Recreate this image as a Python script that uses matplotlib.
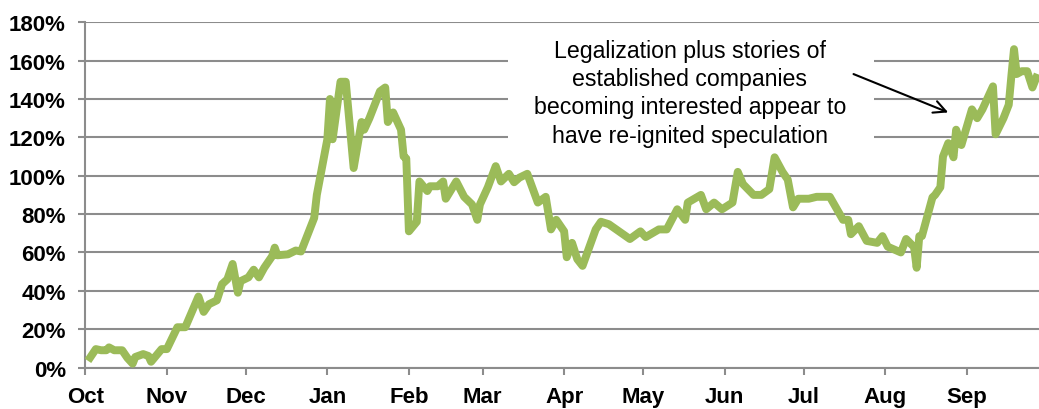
import pandas as pd
import matplotlib
matplotlib.use("Agg")
import matplotlib.pyplot as plt
import matplotlib.dates as mdates
from matplotlib.patches import Rectangle
from matplotlib.ticker import PercentFormatter, MultipleLocator

plt.rcParams['font.family'] = ['Liberation Sans', 'DejaVu Sans']

# Index gain since 1 Oct 2017 (percent)
dates = [
    "2017-10-02", "2017-10-05", "2017-10-07", "2017-10-09", "2017-10-10", "2017-10-12",
    "2017-10-15", "2017-10-17", "2017-10-19", "2017-10-20", "2017-10-23", "2017-10-25",
    "2017-10-26", "2017-10-30", "2017-11-01", "2017-11-05", "2017-11-08", "2017-11-13",
    "2017-11-15", "2017-11-17", "2017-11-20", "2017-11-22", "2017-11-24", "2017-11-26",
    "2017-11-28", "2017-11-29", "2017-12-02", "2017-12-04", "2017-12-06", "2017-12-08",
    "2017-12-11", "2017-12-12", "2017-12-13", "2017-12-17", "2017-12-20", "2017-12-22",
    "2017-12-27", "2017-12-28", "2018-01-01", "2018-01-02", "2018-01-03", "2018-01-06",
    "2018-01-08", "2018-01-11", "2018-01-14", "2018-01-15", "2018-01-17", "2018-01-21",
    "2018-01-23", "2018-01-24", "2018-01-26", "2018-01-29", "2018-01-30", "2018-01-31",
    "2018-02-01", "2018-02-04", "2018-02-05", "2018-02-08", "2018-02-09", "2018-02-12",
    "2018-02-14", "2018-02-15", "2018-02-19", "2018-02-22", "2018-02-25", "2018-02-27",
    "2018-02-28", "2018-03-03", "2018-03-06", "2018-03-08", "2018-03-11", "2018-03-13",
    "2018-03-15", "2018-03-18", "2018-03-22", "2018-03-25", "2018-03-27", "2018-03-29",
    "2018-04-01", "2018-04-02", "2018-04-04", "2018-04-06", "2018-04-08", "2018-04-13",
    "2018-04-15", "2018-04-18", "2018-04-26", "2018-04-30", "2018-05-02", "2018-05-07",
    "2018-05-10", "2018-05-14", "2018-05-17", "2018-05-18", "2018-05-23", "2018-05-25",
    "2018-05-28", "2018-05-31", "2018-06-04", "2018-06-06", "2018-06-08", "2018-06-12",
    "2018-06-15", "2018-06-18", "2018-06-20", "2018-06-23", "2018-06-25", "2018-06-27",
    "2018-06-29", "2018-07-03", "2018-07-06", "2018-07-11", "2018-07-16", "2018-07-18",
    "2018-07-19", "2018-07-22", "2018-07-25", "2018-07-29", "2018-07-31", "2018-08-02",
    "2018-08-07", "2018-08-09", "2018-08-12", "2018-08-13", "2018-08-14", "2018-08-15",
    "2018-08-19", "2018-08-20", "2018-08-22", "2018-08-23", "2018-08-25", "2018-08-27",
    "2018-08-28", "2018-08-30", "2018-09-03", "2018-09-05", "2018-09-07", "2018-09-11",
    "2018-09-12", "2018-09-15", "2018-09-17", "2018-09-18", "2018-09-19", "2018-09-20",
    "2018-09-22", "2018-09-24", "2018-09-26", "2018-09-28",
]
gain_pct = [
    3.5, 9.6, 9.0, 9.0, 10.5, 9.0,
    9.0, 5.0, 2.0, 5.5, 7.0, 6.0,
    3.0, 9.6, 9.6, 21, 21, 37,
    29, 33, 35, 43.5, 46, 54,
    39, 45, 47, 51, 47, 52,
    58, 62.5, 58.5, 59, 61, 60.5,
    78, 90, 119, 140, 119, 149,
    149, 104, 128, 124, 130, 144,
    146, 128, 133, 124, 110, 109,
    71, 76, 97, 92, 94.5, 94.5,
    97, 88, 97, 89, 85, 77,
    85, 94, 105, 97, 101, 96.6,
    99, 101, 86, 89, 72, 77,
    71, 57.5, 65, 56.5, 53, 72,
    76, 74.7, 67, 71, 68, 72,
    72, 82.5, 77, 86, 90, 82.5,
    86, 82.5, 86, 102, 95.6, 90,
    90, 93, 109.6, 102, 98, 83.5,
    88, 88, 89, 89, 77, 77,
    69.5, 73.7, 66, 65, 68.5, 63,
    60, 67, 62.8, 52, 68.5, 68.5,
    88.7, 90, 94, 110, 117, 109.6,
    124, 116, 134.6, 130, 134.6, 146.6,
    121.6, 130, 137, 152, 166, 153,
    154.5, 154.5, 146, 153,
]

note = ("Legalization plus stories of\nestablished companies\n"
        "becoming interested appear to\nhave re-ignited speculation")
arrow_from = ("2018-07-20", 153)
arrow_to = ("2018-08-25", 133)

x = pd.to_datetime(dates)

fig = plt.figure(figsize=(10.39, 4.10), dpi=100)
ax = fig.add_axes([0.0821, 0.1012, 0.9179, 0.842])

grid_col = '#8c8c8c'
ax.plot(x, gain_pct, color='#9BBB59', linewidth=5.7, solid_joinstyle='round',
        solid_capstyle='butt', zorder=3)

ax.set_xlim(pd.Timestamp("2017-10-01"), pd.Timestamp("2018-09-28 12:00"))
ax.set_ylim(0, 180)

ax.yaxis.set_major_locator(MultipleLocator(20))
ax.yaxis.set_major_formatter(PercentFormatter(decimals=0))
ax.xaxis.set_major_locator(mdates.MonthLocator())
ax.xaxis.set_major_formatter(mdates.DateFormatter('%b'))

ax.grid(axis='y', color=grid_col, linewidth=1.5, zorder=0)
ax.set_axisbelow(True)
for side in ['top', 'right']:
    ax.spines[side].set_visible(False)
for side in ['left', 'bottom']:
    ax.spines[side].set_color(grid_col)
    ax.spines[side].set_linewidth(1.5)

ax.tick_params(axis='both', colors=grid_col, length=5, width=1.5)
ax.tick_params(axis='y', pad=9)
ax.tick_params(axis='x', pad=8)
for lab in ax.get_xticklabels() + ax.get_yticklabels():
    lab.set_color('black')
    lab.set_fontsize(16)
    lab.set_fontweight('bold')

# white box behind the note hides the grid lines
ax.add_patch(Rectangle((0.443, 0.633), 0.384, 0.333, transform=ax.transAxes,
                       facecolor='white', edgecolor='none', zorder=1))
ax.text(0.634, 0.796, note, transform=ax.transAxes, ha='center', va='center',
        fontsize=16.7, linespacing=1.29, zorder=4)
ax.annotate('', xy=(pd.Timestamp(arrow_to[0]), arrow_to[1]),
            xytext=(pd.Timestamp(arrow_from[0]), arrow_from[1]),
            arrowprops=dict(arrowstyle='->', color='black', lw=1.5,
                            mutation_scale=22, shrinkA=0, shrinkB=0),
            zorder=4)

plt.savefig('out.png', dpi=100)
